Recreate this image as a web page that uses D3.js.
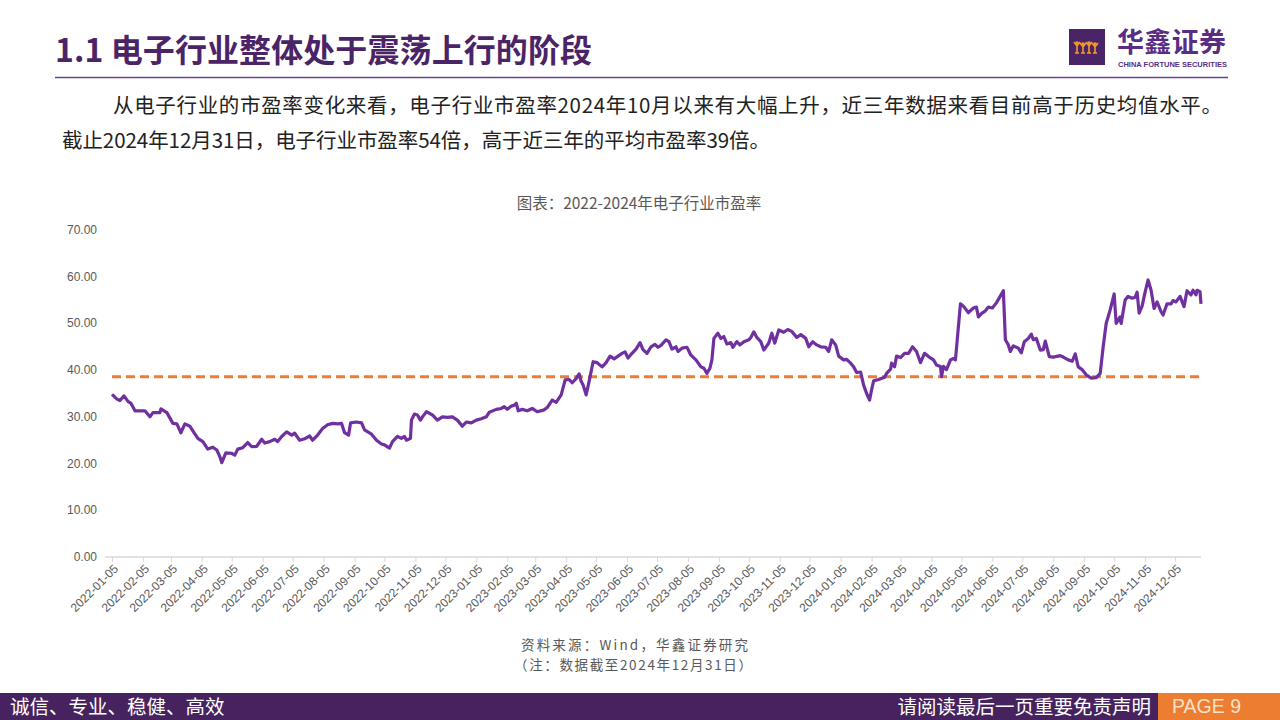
<!DOCTYPE html>
<html>
<head>
<meta charset="utf-8">
<script src="https://cdn.jsdelivr.net/npm/d3@7"></script>
<style>
  body { margin: 0; background: #fff; }
  svg { display: block; }
  text { font-family: "Liberation Sans", "Noto Sans CJK SC", sans-serif; }
  .cn { font-family: "Noto Sans CJK SC", sans-serif; }
</style>
</head>
<body>
<svg width="1280" height="720"></svg>
<script>
// 电子行业市盈率
var dates = [
  "2022-01-05","2022-01-10","2022-01-13","2022-01-17","2022-01-21","2022-01-24","2022-01-28","2022-02-07","2022-02-12","2022-02-15",
  "2022-02-22","2022-02-23","2022-03-01","2022-03-07","2022-03-11","2022-03-15","2022-03-19","2022-03-24","2022-03-27","2022-04-01",
  "2022-04-06","2022-04-11","2022-04-16","2022-04-20","2022-04-23","2022-04-25","2022-04-29","2022-05-05","2022-05-08","2022-05-11",
  "2022-05-16","2022-05-21","2022-05-25","2022-05-30","2022-06-04","2022-06-07","2022-06-12","2022-06-17","2022-06-20","2022-06-24",
  "2022-06-29","2022-07-04","2022-07-07","2022-07-12","2022-07-17","2022-07-22","2022-07-25","2022-07-30","2022-08-04","2022-08-09",
  "2022-08-14","2022-08-19","2022-08-23","2022-08-26","2022-08-30","2022-09-01","2022-09-07","2022-09-12","2022-09-15","2022-09-22",
  "2022-09-27","2022-10-02","2022-10-05","2022-10-10","2022-10-13","2022-10-18","2022-10-22","2022-10-25","2022-10-27","2022-10-31",
  "2022-11-01","2022-11-04","2022-11-07","2022-11-10","2022-11-12","2022-11-16","2022-11-22","2022-11-27","2022-12-02","2022-12-07",
  "2022-12-12","2022-12-17","2022-12-22","2022-12-26","2022-12-31","2023-01-05","2023-01-10","2023-01-15","2023-01-18","2023-01-25",
  "2023-01-30","2023-02-02","2023-02-05","2023-02-09","2023-02-12","2023-02-14","2023-02-16","2023-02-20","2023-02-25","2023-03-02",
  "2023-03-07","2023-03-14","2023-03-17","2023-03-22","2023-03-26","2023-03-31","2023-04-04","2023-04-08","2023-04-11","2023-04-15",
  "2023-04-18","2023-04-20","2023-04-22","2023-04-25","2023-04-28","2023-05-02","2023-05-06","2023-05-11","2023-05-15","2023-05-19",
  "2023-05-23","2023-05-27","2023-05-31","2023-06-03","2023-06-06","2023-06-10","2023-06-14","2023-06-18","2023-06-21","2023-06-25",
  "2023-06-29","2023-07-03","2023-07-06","2023-07-09","2023-07-14","2023-07-17","2023-07-20","2023-07-24","2023-07-26","2023-07-30",
  "2023-08-04","2023-08-08","2023-08-13","2023-08-18","2023-08-21","2023-08-24","2023-08-27","2023-08-29","2023-08-31","2023-09-04",
  "2023-09-07","2023-09-10","2023-09-13","2023-09-17","2023-09-19","2023-09-23","2023-09-26","2023-09-30","2023-10-05","2023-10-07",
  "2023-10-10","2023-10-13","2023-10-17","2023-10-20","2023-10-25","2023-10-28","2023-10-31","2023-11-04","2023-11-09","2023-11-13",
  "2023-11-17","2023-11-22","2023-11-26","2023-12-01","2023-12-04","2023-12-08","2023-12-12","2023-12-16","2023-12-21","2023-12-24",
  "2023-12-27","2023-12-31","2024-01-03","2024-01-08","2024-01-11","2024-01-15","2024-01-18","2024-01-21","2024-01-25","2024-01-28",
  "2024-01-31","2024-02-03","2024-02-05","2024-02-07","2024-02-12","2024-02-18","2024-02-20","2024-02-24","2024-02-25","2024-02-28",
  "2024-03-01","2024-03-05","2024-03-09","2024-03-13","2024-03-17","2024-03-21","2024-03-25","2024-03-29","2024-04-02","2024-04-07",
  "2024-04-10","2024-04-14","2024-04-15","2024-04-17","2024-04-20","2024-04-24","2024-04-27","2024-04-29","2024-05-04","2024-05-07",
  "2024-05-12","2024-05-17","2024-05-20","2024-05-22","2024-05-25","2024-05-29","2024-06-01","2024-06-05","2024-06-09","2024-06-16",
  "2024-06-18","2024-06-21","2024-06-23","2024-06-26","2024-07-01","2024-07-04","2024-07-07","2024-07-11","2024-07-14","2024-07-16",
  "2024-07-19","2024-07-23","2024-07-26","2024-07-28","2024-08-01","2024-08-05","2024-08-12","2024-08-15","2024-08-20","2024-08-24",
  "2024-08-27","2024-08-30","2024-09-03","2024-09-07","2024-09-12","2024-09-17","2024-09-21","2024-09-24","2024-09-27","2024-10-01",
  "2024-10-05","2024-10-07","2024-10-11","2024-10-12","2024-10-16","2024-10-19","2024-10-23","2024-10-26","2024-10-28","2024-10-30",
  "2024-11-02","2024-11-05","2024-11-08","2024-11-11","2024-11-14","2024-11-17","2024-11-21","2024-11-23","2024-11-27","2024-12-01",
  "2024-12-03","2024-12-06","2024-12-10","2024-12-14","2024-12-17","2024-12-21","2024-12-23","2024-12-26","2024-12-27","2024-12-30",
  "2024-12-31"
];
var peValues = [
  34.8,33.8,33.5,34.5,33.3,32.9,31.3,31.3,30.0,30.9,
  30.9,31.7,30.9,28.6,28.5,26.6,28.5,28.0,27.0,25.4,
  24.7,23.1,23.5,22.9,21.5,20.2,22.3,22.2,21.8,23.1,
  23.4,24.5,23.6,23.7,25.2,24.4,24.7,25.2,24.7,25.8,
  26.8,26.1,26.5,25.0,25.3,25.9,25.0,26.1,27.5,28.3,
  28.6,28.5,28.6,26.6,26.1,28.7,28.9,28.7,27.2,26.3,
  25.0,24.2,24.0,23.3,24.7,25.8,25.4,25.8,25.0,25.4,
  29.3,30.6,30.4,29.3,30.0,31.1,30.4,29.3,30.0,29.9,
  30.0,29.3,28.0,28.9,28.7,29.3,29.6,30.0,31.0,31.6,
  31.8,32.2,31.6,32.3,32.5,32.9,31.3,31.6,31.3,31.8,
  31.1,31.5,32.0,33.6,33.1,34.7,37.9,38.0,37.3,38.2,
  39.2,37.6,36.8,34.7,37.6,41.8,41.6,40.7,41.6,43.0,
  42.4,43.0,43.6,43.9,42.6,43.6,44.5,45.9,44.4,43.6,
  45.0,45.5,44.9,45.3,46.5,46.1,44.5,45.0,44.0,44.7,
  44.9,43.2,42.2,40.7,40.4,39.3,40.4,42.2,46.8,47.9,
  46.8,47.2,45.6,45.9,44.9,46.1,45.4,46.1,46.5,47.0,
  48.2,47.0,46.1,44.3,45.8,47.9,45.8,48.6,48.1,48.7,
  48.3,47.0,47.6,46.8,45.0,46.1,45.4,45.0,44.9,44.0,
  46.5,45.4,43.0,42.2,42.3,41.5,40.7,39.5,39.6,36.8,
  35.0,33.6,35.8,37.7,38.0,38.5,39.3,40.2,41.5,40.7,
  43.0,42.7,43.6,43.6,45.0,44.0,41.6,43.6,42.9,42.2,
  41.1,40.8,38.6,40.8,40.1,42.2,42.5,42.2,54.2,53.7,
  52.3,53.3,53.5,51.4,52.1,52.7,53.5,53.3,54.4,57.0,
  46.5,45.4,44.0,45.2,44.7,43.7,46.1,46.8,47.7,46.5,
  46.8,44.3,44.4,46.2,42.9,42.8,43.1,42.8,42.2,41.9,
  43.5,40.7,40.1,39.0,38.3,38.4,39.3,45.0,50.0,52.9,
  56.3,50.0,51.4,50.0,55.0,55.8,55.4,55.6,56.7,52.2,
  53.7,56.7,59.3,57.1,53.2,54.6,52.5,51.8,54.2,54.2,
  54.9,54.6,55.8,53.6,57.0,56.1,57.1,56.1,57.1,56.8,
  54.2
];
var avgPE = 38.6;   // 近三年平均市盈率
var yTicks = [0, 10, 20, 30, 40, 50, 60, 70];
var xTickLabels = [
  "2022-01-05","2022-02-05","2022-03-05","2022-04-05","2022-05-05","2022-06-05","2022-07-05","2022-08-05","2022-09-05","2022-10-05","2022-11-05","2022-12-05",
  "2023-01-05","2023-02-05","2023-03-05","2023-04-05","2023-05-05","2023-06-05","2023-07-05","2023-08-05","2023-09-05","2023-10-05","2023-11-05","2023-12-05",
  "2024-01-05","2024-02-05","2024-03-05","2024-04-05","2024-05-05","2024-06-05","2024-07-05","2024-08-05","2024-09-05","2024-10-05","2024-11-05","2024-12-05"
];

var parse = d3.timeParse("%Y-%m-%d");
var data = dates.map(function(d, i) { return { date: parse(d), pe: peValues[i] }; });

var svg = d3.select("svg");
var purple = "#7030a0", orange = "#ed7d31", darkPurple = "#46235e";

// ---- 页眉
svg.append("text").attr("class", "cn")
   .attr("x", 55).attr("y", 62)
   .attr("font-size", 32).attr("font-weight", "bold").attr("fill", "#4b2468")
   .attr("textLength", 537)
   .text("1.1 电子行业整体处于震荡上行的阶段");
svg.append("line").attr("x1", 55).attr("x2", 1228).attr("y1", 77.5).attr("y2", 77.5)
   .attr("stroke", "#6a4490").attr("stroke-width", 1.5);

// logo
var logo = svg.append("g").attr("transform", "translate(1069,29)");
logo.append("rect").attr("width", 36).attr("height", 36).attr("fill", "#4b2468");
[8, 14, 20, 26].forEach(function(cx, i) {
    var o = i % 2;
    logo.append("circle").attr("cx", cx).attr("cy", 14 + o).attr("r", 1.8).attr("fill", "#f39a2b");
    logo.append("path")
        .attr("d", "M" + (cx - 3) + "," + (13 + o) + " L" + cx + "," + (17 + o) + " L" + (cx + 3) + "," + (13 + o) +
                   " M" + cx + "," + (17 + o) + " L" + cx + ",24 M" + (cx - 2) + ",24 L" + (cx + 2) + ",24")
        .attr("stroke", "#f39a2b").attr("stroke-width", 1.6).attr("fill", "none");
});
svg.append("text").attr("class", "cn").attr("x", 1117).attr("y", 52)
   .attr("font-size", 27).attr("font-weight", "bold").attr("fill", "#5a2d82").attr("textLength", 109)
   .text("华鑫证券");
svg.append("text").attr("x", 1118).attr("y", 67)
   .attr("font-size", 7.5).attr("font-weight", "bold").attr("fill", "#5a2d82").attr("textLength", 109)
   .text("CHINA FORTUNE SECURITIES");

// 正文
svg.append("text").attr("class", "cn").attr("x", 113).attr("y", 113)
   .attr("font-size", 20.5).attr("fill", "#222").attr("textLength", 1109)
   .text("从电子行业的市盈率变化来看，电子行业市盈率2024年10月以来有大幅上升，近三年数据来看目前高于历史均值水平。");
svg.append("text").attr("class", "cn").attr("x", 62).attr("y", 148)
   .attr("font-size", 20.5).attr("fill", "#222").attr("textLength", 708)
   .text("截止2024年12月31日，电子行业市盈率54倍，高于近三年的平均市盈率39倍。");

// 图表标题
svg.append("text").attr("class", "cn").attr("x", 639).attr("y", 209)
   .attr("text-anchor", "middle").attr("font-size", 15.5).attr("fill", "#595959")
   .text("图表：2022-2024年电子行业市盈率");

// ---- 图表
var x = d3.scaleTime().domain([parse("2022-01-05"), parse("2024-12-31")]).range([112, 1201]);
var y = d3.scaleLinear().domain([0, 70]).range([557, 230]);

// y 轴标签
svg.append("g").selectAll("text").data(yTicks).enter().append("text")
   .attr("x", 97).attr("y", function(d) { return y(d) + 4; })
   .attr("text-anchor", "end").attr("font-size", 12).attr("fill", "#595959")
   .text(function(d) { return d3.format(".2f")(d); });

// x 轴
var xAxis = d3.axisBottom(x)
    .tickValues(xTickLabels.map(parse))
    .tickSize(5)
    .tickFormat(d3.timeFormat("%Y-%m-%d"));
var gx = svg.append("g").attr("transform", "translate(0,557)").call(xAxis);
gx.select(".domain").attr("stroke", "#d9d9d9").attr("stroke-width", 1.5)
  .attr("d", "M105,0H1201");
gx.selectAll(".tick line").attr("stroke", "#d9d9d9");
gx.selectAll(".tick text")
  .attr("font-family", "Liberation Sans, sans-serif")
  .attr("font-size", 12).attr("fill", "#595959")
  .attr("text-anchor", "end")
  .attr("transform", "rotate(-45)")
  .attr("dx", "-0.35em").attr("dy", "0.45em");

// 均值虚线
svg.append("line")
   .attr("x1", x.range()[0]).attr("x2", x.range()[1])
   .attr("y1", y(avgPE)).attr("y2", y(avgPE))
   .attr("stroke", orange).attr("stroke-width", 3).attr("stroke-dasharray", "9,5");

// 市盈率曲线
var line = d3.line().x(function(d) { return x(d.date); }).y(function(d) { return y(d.pe); });
svg.append("path").datum(data)
   .attr("d", line)
   .attr("fill", "none").attr("stroke", purple).attr("stroke-width", 3.2)
   .attr("stroke-linejoin", "round");

// 资料来源
svg.append("text").attr("class", "cn").attr("x", 521).attr("y", 649.5)
   .attr("font-size", 13.5).attr("fill", "#595959").attr("textLength", 227)
   .text("资料来源：Wind，华鑫证券研究");
svg.append("text").attr("class", "cn").attr("x", 514).attr("y", 669.5)
   .attr("font-size", 13.5).attr("fill", "#595959").attr("textLength", 238)
   .text("（注：数据截至2024年12月31日）");

// ---- 页脚
svg.append("rect").attr("x", 0).attr("y", 693).attr("width", 1280).attr("height", 27).attr("fill", darkPurple);
svg.append("rect").attr("x", 1158).attr("y", 693).attr("width", 122).attr("height", 27).attr("fill", orange);
svg.append("text").attr("class", "cn").attr("x", 10).attr("y", 714)
   .attr("font-size", 19.5).attr("fill", "#fff").text("诚信、专业、稳健、高效");
svg.append("text").attr("class", "cn").attr("x", 1151).attr("y", 714)
   .attr("text-anchor", "end").attr("font-size", 19.5).attr("fill", "#fff").text("请阅读最后一页重要免责声明");
svg.append("text").attr("x", 1172).attr("y", 713)
   .attr("font-size", 19.5).attr("fill", "#fbe0c8").text("PAGE 9");
</script>
</body>
</html>
